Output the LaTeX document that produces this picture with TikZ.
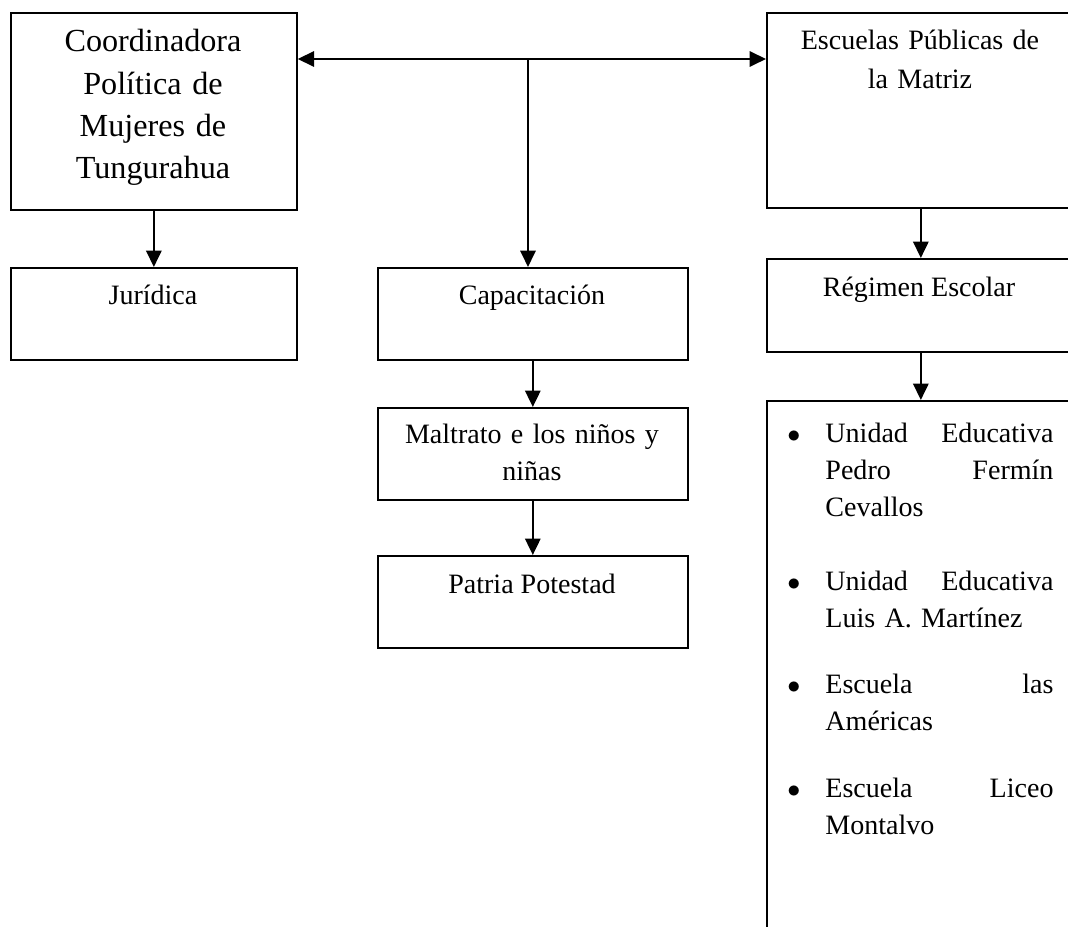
\documentclass[tikz,border=0pt]{standalone}
\usepackage{fontspec}
\setmainfont{Liberation Serif}
\usetikzlibrary{arrows.meta}

\begin{document}
\begin{tikzpicture}[x=0.46pt, y=-0.46pt,
    caja/.style={draw, line width=0.75pt, inner sep=0pt, anchor=north west},
    flecha/.style={line width=1pt, -{Triangle[length=7.5pt,width=7pt]}},
    texto/.style={anchor=base, align=center, inner sep=0pt, font=\fontsize{12.9}{17.3}\selectfont},
    punto/.style={anchor=base west, text width=104.9pt, align=left, inner sep=0pt, font=\fontsize{12.9}{17.1}\selectfont}]
    \useasboundingbox (0,0) rectangle (1068,927);
    \clip (0,0) rectangle (1068,927);

    \node[caja, minimum width=131.6pt, minimum height=90.6pt] (coor) at (10,12) {};
    \node[caja, minimum width=131.6pt, minimum height=42.3pt] (jur) at (10,267) {};
    \node[caja, minimum width=142.6pt, minimum height=42.3pt] (cap) at (377,267) {};
    \node[caja, minimum width=142.6pt, minimum height=42.3pt] (mal) at (377,407) {};
    \node[caja, minimum width=142.6pt, minimum height=42.3pt] (pat) at (377,555) {};
    \node[caja, minimum width=141.7pt, minimum height=89.7pt] (esc) at (766,12) {};
    \node[caja, minimum width=141.7pt, minimum height=42.8pt] (reg) at (766,258) {};
    \node[caja, minimum width=141.7pt, minimum height=276pt] (lista) at (766,400) {};

    \node[texto, text width=125pt, font=\fontsize{14.8}{19.4}\selectfont] (tcoor) at (153,52) {Coordinadora\\Política de\\Mujeres de\\Tungurahua};
    \node[texto] (tjur) at (153,305) {Jurídica};
    \node[texto] (tcap) at (532,305) {Capacitación};
    \node[texto, text width=140pt] (tmal) at (532,443) {Maltrato e los niños y\\niñas};
    \node[texto] (tpat) at (532,593) {Patria Potestad};
    \node[texto, text width=140pt, font=\fontsize{12.9}{17.5}\selectfont] (tesc) at (920,50) {Escuelas Públicas de\\la Matriz};
    \node[texto] (treg) at (919,297) {Régimen Escolar};

    \node[punto] (u1) at (825,442) {\llap{$\bullet$\hspace{11.5pt}}Unidad\hfill Educativa\\Pedro\hfill Fermín\\Cevallos};
    \node[punto] (u2) at (825,590) {\llap{$\bullet$\hspace{11.5pt}}Unidad\hfill Educativa\\Luis A. Martínez};
    \node[punto] (u3) at (825,693) {\llap{$\bullet$\hspace{11.5pt}}Escuela\hfill las\\Américas};
    \node[punto] (u4) at (825,797) {\llap{$\bullet$\hspace{11.5pt}}Escuela\hfill Liceo\\Montalvo};

    \coordinate (cruce) at (528,59);
    \draw[flecha] (cruce) -- (coor.east |- cruce);
    \draw[flecha] (cruce) -- (esc.west |- cruce);
    \draw[flecha] (cruce) -- (cruce |- cap.north);
    \draw[flecha] (coor.south) -- (jur.north);
    \draw[flecha] (cap.south) -- (mal.north);
    \draw[flecha] (mal.south) -- (pat.north);
    \draw[flecha] (esc.south) -- (reg.north);
    \draw[flecha] (reg.south) -- (lista.north);
\end{tikzpicture}
\end{document}
